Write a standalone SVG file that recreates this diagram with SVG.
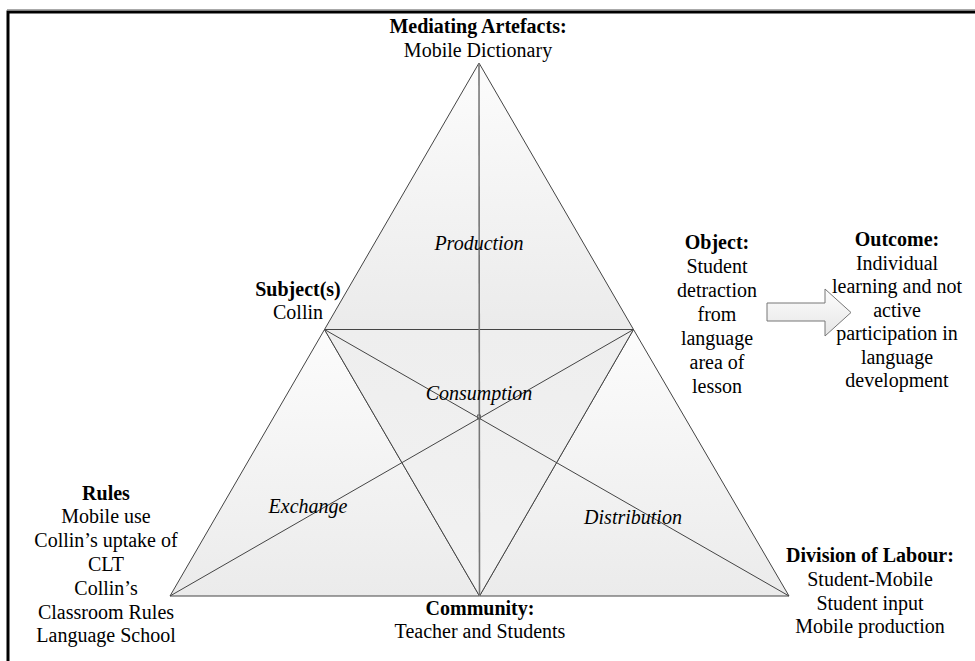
<svg xmlns="http://www.w3.org/2000/svg" width="975" height="661" viewBox="0 0 975 661">
  <defs>
    <linearGradient id="shadeDown" x1="0" y1="0" x2="0" y2="1">
      <stop offset="0" stop-color="#fcfcfc"/>
      <stop offset="1" stop-color="#ebebeb"/>
    </linearGradient>
    <linearGradient id="shadeFlat" x1="0" y1="0" x2="0" y2="1">
      <stop offset="0" stop-color="#eeeeee"/>
      <stop offset="1" stop-color="#f2f2f2"/>
    </linearGradient>
    <linearGradient id="arrowFill" x1="0" y1="0" x2="0" y2="1">
      <stop offset="0" stop-color="#fdfdfd"/>
      <stop offset="1" stop-color="#e6e6e6"/>
    </linearGradient>
  </defs>
  <style>
    text { font-family: "Liberation Serif", "Times New Roman", serif; font-size: 20px; fill: #000; text-anchor: middle; }
    .b { font-weight: bold; }
    .i { font-style: italic; }
    .tri { stroke: #444; stroke-width: 1; stroke-linejoin: round; }
    .edge { stroke: #444; stroke-width: 1; fill: none; }
    .axis { stroke: #777; stroke-width: 1.6; fill: none; }
  </style>

  <rect width="975" height="661" fill="#fff"/>

  <!-- page frame -->
  <line x1="7" y1="9.5" x2="975" y2="9.5" stroke="#aaa" stroke-width="1"/>
  <rect x="8" y="12" width="1000" height="700" fill="none" stroke="#000" stroke-width="3"/>

  <!-- activity system regions -->
  <g id="production-region">
    <polygon class="tri" points="479,63 324.5,329.5 633.5,329.5" fill="url(#shadeDown)"/>
  </g>
  <g id="exchange-region">
    <polygon class="tri" points="324.5,329.5 170,596 479.5,596" fill="url(#shadeDown)"/>
  </g>
  <g id="distribution-region">
    <polygon class="tri" points="633.5,329.5 479.5,596 789,596" fill="url(#shadeDown)"/>
  </g>
  <g id="consumption-region">
    <polygon class="tri" points="324.5,329.5 633.5,329.5 479.5,596" fill="url(#shadeFlat)"/>
  </g>

  <!-- connectors -->
  <g id="connectors">
    <line class="edge" x1="170" y1="596" x2="633.5" y2="329.5"/>
    <line class="edge" x1="789" y1="596" x2="324.5" y2="329.5"/>
    <line class="axis" x1="479" y1="63" x2="479.5" y2="596"/>
    <rect x="477.5" y="415" width="3" height="4" fill="none" stroke="#555" stroke-width="0.8"/>
  </g>

  <!-- region labels -->
  <g id="label-production"><text class="i" x="479" y="250">Production</text></g>
  <g id="label-consumption"><text class="i" x="479" y="400">Consumption</text></g>
  <g id="label-exchange"><text class="i" x="308" y="513">Exchange</text></g>
  <g id="label-distribution"><text class="i" x="633" y="524">Distribution</text></g>

  <!-- corner nodes -->
  <g id="node-artefacts">
    <text class="b" x="478" y="33">Mediating Artefacts:</text>
    <text x="478" y="57">Mobile Dictionary</text>
  </g>
  <g id="node-subject">
    <text class="b" x="298" y="296">Subject(s)</text>
    <text x="298" y="319">Collin</text>
  </g>
  <g id="node-object">
    <text class="b" x="717" y="249">Object:</text>
    <text x="717" y="273">Student</text>
    <text x="717" y="297">detraction</text>
    <text x="717" y="321">from</text>
    <text x="717" y="345">language</text>
    <text x="717" y="369">area of</text>
    <text x="717" y="393">lesson</text>
  </g>
  <g id="node-outcome-arrow">
    <path d="M767,303 H825 V289 L851,312.5 L825,336 V321 H767 Z" fill="url(#arrowFill)" stroke="#777" stroke-width="1"/>
  </g>
  <g id="node-outcome">
    <text class="b" x="897" y="246">Outcome:</text>
    <text x="897" y="269.5">Individual</text>
    <text x="897" y="293">learning and not</text>
    <text x="897" y="316.5">active</text>
    <text x="897" y="340">participation in</text>
    <text x="897" y="363.5">language</text>
    <text x="897" y="387">development</text>
  </g>
  <g id="node-rules">
    <text class="b" x="106" y="500">Rules</text>
    <text x="106" y="523">Mobile use</text>
    <text x="106" y="547">Collin’s uptake of</text>
    <text x="106" y="571">CLT</text>
    <text x="106" y="595">Collin’s</text>
    <text x="106" y="619">Classroom Rules</text>
    <text x="106" y="642">Language School</text>
  </g>
  <g id="node-community">
    <text class="b" x="480" y="615">Community:</text>
    <text x="480" y="638">Teacher and Students</text>
  </g>
  <g id="node-division">
    <text class="b" x="870" y="562">Division of Labour:</text>
    <text x="870" y="586">Student-Mobile</text>
    <text x="870" y="610">Student input</text>
    <text x="870" y="633">Mobile production</text>
  </g>
</svg>
